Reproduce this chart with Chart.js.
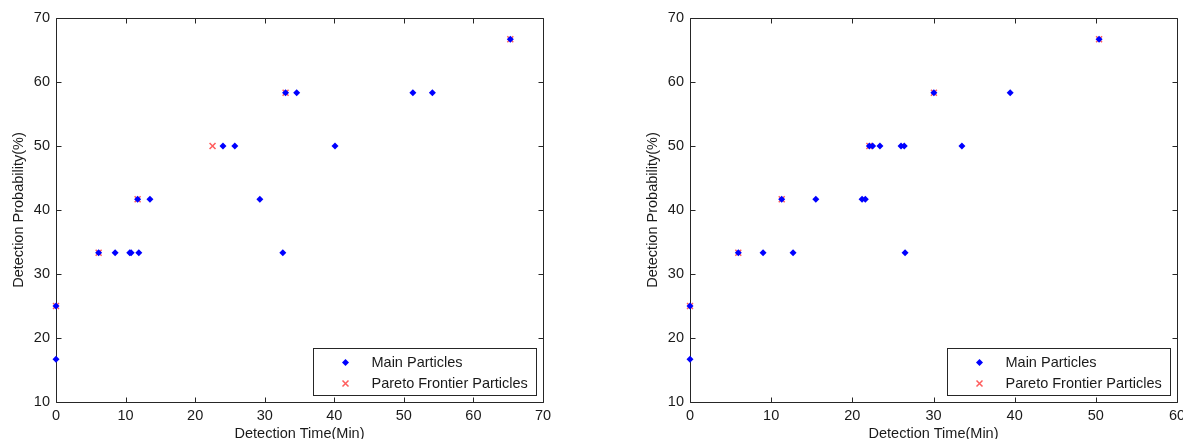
<!DOCTYPE html>
<html>
<head>
<meta charset="utf-8">
<script src="https://cdn.jsdelivr.net/npm/chart.js@4"></script>
<style>
html,body{margin:0;padding:0;background:#fff;overflow:hidden;width:1183px;height:439px;}
.c{position:absolute;top:0;}
</style>
</head>
<body>
<div class="c" style="left:0px"><canvas id="cL" width="560" height="439"></canvas></div>
<div class="c" style="left:634px"><canvas id="cR" width="560" height="439"></canvas></div>
<script>
// ---- data ----
const xTitle = "Detection Time(Min)";
const yTitle = "Detection Probability(%)";
const mainLabel = "Main Particles";
const paretoLabel = "Pareto Frontier Particles";

const leftMainX   = [0, 0, 6.13, 8.5, 10.6, 10.8, 11.9, 32.6, 11.73, 13.5, 29.3, 24.0, 25.7, 40.1, 33.0, 34.6, 51.3, 54.1, 65.3];
const leftMainY   = [16.67, 25, 33.33, 33.33, 33.33, 33.33, 33.33, 33.33, 41.67, 41.67, 41.67, 50, 50, 50, 58.33, 58.33, 58.33, 58.33, 66.67];
const leftParetoX = [0, 6.13, 11.73, 22.5, 33.0, 65.3];
const leftParetoY = [25, 33.33, 41.67, 50, 58.33, 66.67];
const leftXMax = 70;

const rightMainX   = [0, 0, 5.95, 9.0, 12.7, 26.5, 11.3, 15.5, 21.2, 21.6, 22.1, 22.5, 23.4, 26.0, 26.4, 33.5, 30.05, 39.45, 50.4];
const rightMainY   = [16.67, 25, 33.33, 33.33, 33.33, 33.33, 41.67, 41.67, 41.67, 41.67, 50, 50, 50, 50, 50, 50, 58.33, 58.33, 66.67];
const rightParetoX = [0, 5.95, 11.3, 22.1, 30.05, 50.4];
const rightParetoY = [25, 33.33, 41.67, 50, 58.33, 66.67];
const rightXMax = 60;

const yMin = 10, yMax = 70, tickStep = 10;

// ---- styling ----
const FONT = "'Liberation Sans', Arial, sans-serif";
const FS = 14.5;
const TXT = '#1a1a1a';
const AX = '#262626';
const BLUE = '#0000ff';
const RED = '#ff5c5c';

function pts(xs, ys){ return xs.map((x,i)=>({x:x, y:ys[i]})); }

const framePlugin = {
  id:'frame',
  beforeDatasetsDraw(chart){
    const {ctx, chartArea:a, scales:{x, y}} = chart;
    ctx.save();
    ctx.strokeStyle = AX; ctx.lineWidth = 1;
    const L = Math.round(a.left)+0.5, R = Math.round(a.right)+0.5, T = Math.round(a.top)+0.5, B = Math.round(a.bottom)+0.5;
    ctx.beginPath();
    ctx.rect(L, T, R-L, B-T);
    const tl = 5;
    x.ticks.forEach(t=>{
      const px = Math.round(x.getPixelForValue(t.value))+0.5;
      ctx.moveTo(px, B); ctx.lineTo(px, B-tl);
      ctx.moveTo(px, T); ctx.lineTo(px, T+tl);
    });
    y.ticks.forEach(t=>{
      const py = Math.round(y.getPixelForValue(t.value))+0.5;
      ctx.moveTo(L, py); ctx.lineTo(L+tl, py);
      ctx.moveTo(R, py); ctx.lineTo(R-tl, py);
    });
    ctx.stroke();
    ctx.restore();
  },
  afterDraw(chart){
    const {ctx, chartArea:a} = chart;
    const w = 223, h = 47;
    const bx = Math.round(a.right) - 7 - w + 0.5;
    const by = Math.round(a.bottom) - 7 - h + 0.5;
    ctx.save();
    ctx.fillStyle = '#fff';
    ctx.fillRect(bx, by, w, h);
    ctx.strokeStyle = AX; ctx.lineWidth = 1;
    ctx.strokeRect(bx, by, w, h);
    const ds = chart.data.datasets;
    const mx = bx + 32, tx = bx + 58;
    const r1 = by + 14, r2 = by + 35;
    ctx.fillStyle = BLUE;
    ctx.beginPath();
    ctx.moveTo(mx, r1-3.5); ctx.lineTo(mx+3.5, r1); ctx.lineTo(mx, r1+3.5); ctx.lineTo(mx-3.5, r1); ctx.closePath();
    ctx.fill();
    ctx.strokeStyle = RED; ctx.lineWidth = 1.5;
    ctx.beginPath();
    ctx.moveTo(mx-3, r2-3); ctx.lineTo(mx+3, r2+3);
    ctx.moveTo(mx+3, r2-3); ctx.lineTo(mx-3, r2+3);
    ctx.stroke();
    ctx.fillStyle = TXT;
    ctx.font = FS + 'px ' + FONT;
    ctx.textBaseline = 'middle';
    ctx.textAlign = 'left';
    ctx.fillText(ds.find(d=>d.key==='main').label, tx, r1);
    ctx.fillText(ds.find(d=>d.key==='pareto').label, tx, r2);
    ctx.restore();
  }
};

function makeChart(id, mx, my, px, py, xMax){
  return new Chart(document.getElementById(id), {
    type:'scatter',
    data:{
      datasets:[
        {key:'main', label:mainLabel, data:pts(mx,my), pointStyle:'rectRot', pointRadius:3.5, pointBackgroundColor:BLUE, pointBorderColor:BLUE, pointBorderWidth:0, clip:false, order:1},
        {key:'pareto', label:paretoLabel, data:pts(px,py), pointStyle:'crossRot', pointRadius:4.2, pointBorderColor:RED, pointBackgroundColor:RED, pointBorderWidth:1.5, clip:false, order:2}
      ]
    },
    options:{
      responsive:false,
      animation:false,
      events:[],
      layout:{padding:{top:18, right:17, left:0, bottom:0}},
      plugins:{legend:{display:false}, tooltip:{enabled:false}},
      scales:{
        x:{
          type:'linear', min:0, max:xMax,
          grid:{display:false, drawTicks:false},
          border:{display:false},
          ticks:{stepSize:tickStep, padding:5, color:TXT, font:{family:FONT, size:FS}},
          title:{display:true, text:xTitle, color:TXT, font:{family:FONT, size:FS, lineHeight:1}, padding:{top:0,bottom:-2}},
          afterFit(s){ s.height = 37; }
        },
        y:{
          type:'linear', min:yMin, max:yMax,
          grid:{display:false, drawTicks:false},
          border:{display:false},
          ticks:{stepSize:tickStep, padding:6, color:TXT, font:{family:FONT, size:FS}},
          title:{display:true, text:yTitle, color:TXT, font:{family:FONT, size:FS, lineHeight:1}, padding:{top:12,bottom:0}},
          afterFit(s){ s.width = 56; }
        }
      }
    },
    plugins:[framePlugin]
  });
}

makeChart('cL', leftMainX, leftMainY, leftParetoX, leftParetoY, leftXMax);
makeChart('cR', rightMainX, rightMainY, rightParetoX, rightParetoY, rightXMax);
</script>
</body>
</html>
